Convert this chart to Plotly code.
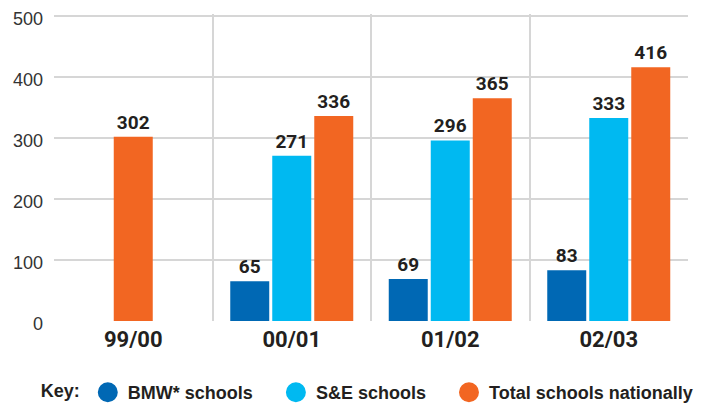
import plotly.graph_objects as go

years = ["99/00", "00/01", "01/02", "02/03"]
bmw = [None, 65, 69, 83]
se = [None, 271, 296, 333]
total = [302, 336, 365, 416]

names = ["BMW* schools", "S&E schools", "Total schools nationally"]
colors = ["rgb(0,104,180)", "rgb(0,185,241)", "rgb(242,102,34)"]
legend_ids = ["legend", "legend2", "legend3"]

W = 0.246
GAP = 0.019
offsets = [
    [-W / 2 - GAP - W] * 4,
    [-W / 2] * 4,
    [-W / 2] + [W / 2 + GAP] * 3,  # 99/00 has only the national total, centred
]

fig = go.Figure()
for name, vals, col, off, lg in zip(names, [bmw, se, total], colors, offsets, legend_ids):
    fig.add_trace(go.Bar(
        x=years, y=vals, name=name, width=W, offset=off,
        marker=dict(color=col, line=dict(width=0)),
        text=[("" if v is None else str(v)) for v in vals],
        textposition="outside", cliponaxis=False,
        textfont=dict(family="Roboto", size=19, color="#231f20", weight="bold"),
        showlegend=False,
    ))
    # circle markers for the key
    fig.add_trace(go.Scatter(
        x=[None], y=[None], mode="markers", name=name, legend=lg,
        marker=dict(symbol="circle", size=16, color=col, line=dict(color=col, width=4)),
    ))

key_font = dict(family="Liberation Sans", size=18, weight="bold", color="#231f20")
leg = dict(orientation="h", y=-0.233, yanchor="middle", xanchor="left",
           font=key_font, itemsizing="trace", bgcolor="rgba(0,0,0,0)")

# page body has an 8px margin, so the figure is a bit smaller than the window
# y range goes a touch past 500 so plotly keeps the top gridline
fig.update_layout(
    width=695, height=395,
    margin=dict(l=46, r=15, t=6, b=82, autoexpand=False),
    paper_bgcolor="white", plot_bgcolor="white",
    barmode="overlay",
    font=dict(family="Roboto", color="#231f20"),
    legend=dict(leg, x=-0.024, title=dict(text="Key:", font=key_font)),
    legend2=dict(leg, x=0.350),
    legend3=dict(leg, x=0.623),
)
fig.update_xaxes(
    showgrid=True, tickson="boundaries", gridcolor="#d6d6d6", gridwidth=2,
    ticks="", showline=False, zeroline=False, automargin=False,
    tickfont=dict(family="Roboto", size=22, weight="bold", color="#231f20"),
    ticklabelstandoff=3,
    range=[-0.5, 3.5],
)
fig.update_yaxes(
    range=[0, 503.3], tickvals=[0, 100, 200, 300, 400, 500],
    showgrid=True, gridcolor="#d6d6d6", gridwidth=2,
    zeroline=False, showline=False, ticks="", ticklabelstandoff=10, automargin=False,
    ticklabeloverflow="allow", ticklabelshift=3,
    tickfont=dict(family="Liberation Sans", size=18, color="#333333"),
)

fig.write_html("out.html")
